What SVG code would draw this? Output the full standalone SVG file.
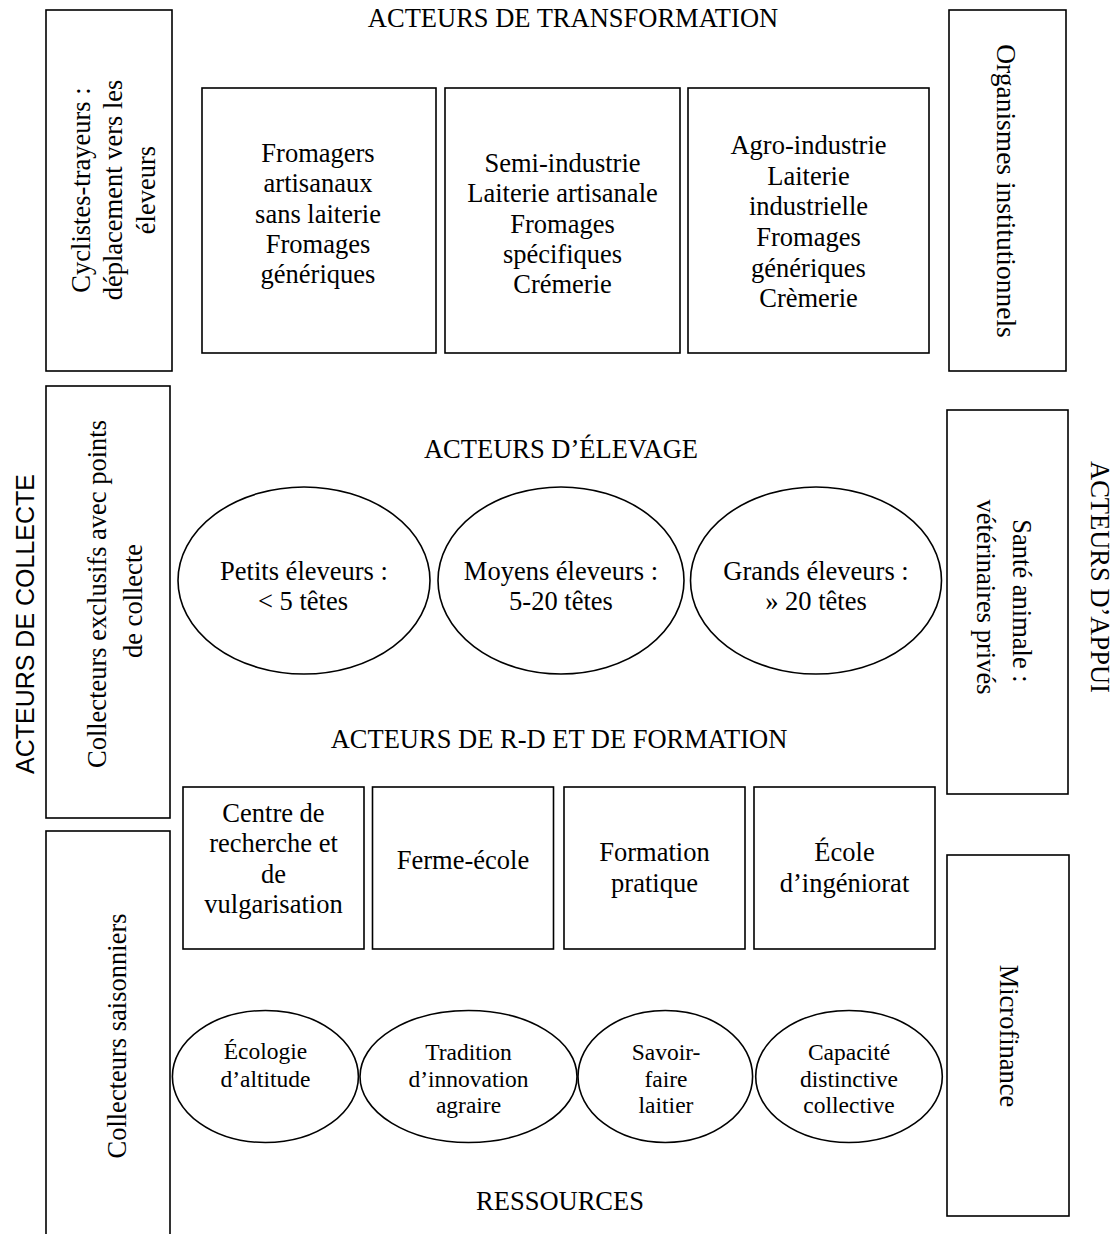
<svg xmlns="http://www.w3.org/2000/svg" width="1115" height="1234" viewBox="0 0 1115 1234">
<style>
  .box { fill: #ffffff; stroke: #000000; stroke-width: 1.6; }
  .ell { fill: #ffffff; stroke: #000000; stroke-width: 1.6; }
  .t { font-family: "Liberation Serif", "Times New Roman", serif; font-size: 26.5px; fill: #000000; text-anchor: middle; }
  .s { font-family: "Liberation Serif", "Times New Roman", serif; font-size: 23.5px; fill: #000000; text-anchor: middle; }
  .sans { font-family: "Liberation Sans", Arial, sans-serif; font-size: 25px; fill: #000000; text-anchor: middle; }
</style>
<rect x="0" y="0" width="1115" height="1234" fill="#ffffff"/>

<!-- Section titles -->
<g id="titles">
  <text class="t" x="573" y="27">ACTEURS DE TRANSFORMATION</text>
  <text class="t" x="561" y="458">ACTEURS D’ÉLEVAGE</text>
  <text class="t" x="559" y="748">ACTEURS DE R-D ET DE FORMATION</text>
  <text class="t" x="560" y="1210">RESSOURCES</text>
  <text class="sans" transform="translate(34,624) rotate(-90)">ACTEURS DE COLLECTE</text>
  <text class="t" transform="translate(1091,577) rotate(90)">ACTEURS D’APPUI</text>
</g>

<!-- Left column : collecte -->
<g id="cyclistes">
  <rect class="box" x="46" y="10" width="126" height="361"/>
  <text class="t" transform="translate(0,190) rotate(-90)"><tspan x="0" y="90">Cyclistes-trayeurs :</tspan><tspan x="0" y="122">déplacement vers les</tspan><tspan x="0" y="155">éleveurs</tspan></text>
</g>
<g id="collecteurs-exclusifs">
  <rect class="box" x="46" y="386" width="124" height="432"/>
  <text class="t" transform="translate(0,598) rotate(-90)"><tspan x="4" y="106">Collecteurs exclusifs avec points</tspan><tspan x="-3" y="142">de collecte</tspan></text>
</g>
<g id="collecteurs-saisonniers">
  <rect class="box" x="46" y="831" width="124" height="420"/>
  <text class="t" transform="translate(126,1036) rotate(-90)">Collecteurs saisonniers</text>
</g>

<!-- Transformation boxes -->
<g id="fromagers">
  <rect class="box" x="202" y="88" width="234" height="265"/>
  <text class="t"><tspan x="318" y="161.7">Fromagers</tspan><tspan x="318" y="192.1">artisanaux</tspan><tspan x="318" y="222.5">sans laiterie</tspan><tspan x="318" y="252.9">Fromages</tspan><tspan x="318" y="283.3">génériques</tspan></text>
</g>
<g id="semi-industrie">
  <rect class="box" x="445" y="88" width="235" height="265"/>
  <text class="t"><tspan x="562.5" y="171.8">Semi-industrie</tspan><tspan x="562.5" y="202.2">Laiterie artisanale</tspan><tspan x="562.5" y="232.6">Fromages</tspan><tspan x="562.5" y="263">spécifiques</tspan><tspan x="562.5" y="293.4">Crémerie</tspan></text>
</g>
<g id="agro-industrie">
  <rect class="box" x="688" y="88" width="241" height="265"/>
  <text class="t"><tspan x="808.5" y="154.2">Agro-industrie</tspan><tspan x="808.5" y="184.8">Laiterie</tspan><tspan x="808.5" y="215.4">industrielle</tspan><tspan x="808.5" y="246">Fromages</tspan><tspan x="808.5" y="276.6">génériques</tspan><tspan x="808.5" y="307.2">Crèmerie</tspan></text>
</g>

<!-- Right column : appui -->
<g id="organismes">
  <rect class="box" x="949" y="10" width="117" height="361"/>
  <text class="t" style="font-size:27.5px" transform="translate(997,191) rotate(90)">Organismes institutionnels</text>
</g>
<g id="sante-animale">
  <rect class="box" x="947" y="410" width="121" height="384"/>
  <text class="t" transform="translate(1013,601) rotate(90)">Santé animale :</text>
  <text class="t" transform="translate(977,597) rotate(90)">vétérinaires privés</text>
</g>
<g id="microfinance">
  <rect class="box" x="947" y="855" width="122" height="361"/>
  <text class="t" transform="translate(1000,1036) rotate(90)">Microfinance</text>
</g>

<!-- Elevage ellipses -->
<g id="petits-eleveurs">
  <ellipse class="ell" cx="304" cy="580.5" rx="126" ry="93.5"/>
  <text class="t"><tspan x="304" y="580">Petits éleveurs :</tspan><tspan x="303" y="610">&lt; 5 têtes</tspan></text>
</g>
<g id="moyens-eleveurs">
  <ellipse class="ell" cx="561" cy="580.5" rx="123" ry="93.5"/>
  <text class="t"><tspan x="561" y="580">Moyens éleveurs :</tspan><tspan x="561" y="610">5-20 têtes</tspan></text>
</g>
<g id="grands-eleveurs">
  <ellipse class="ell" cx="816" cy="580.5" rx="125.5" ry="93.5"/>
  <text class="t"><tspan x="816" y="580">Grands éleveurs :</tspan><tspan x="816" y="610">» 20 têtes</tspan></text>
</g>

<!-- R-D boxes -->
<g id="centre-recherche">
  <rect class="box" x="183" y="787" width="181" height="162"/>
  <text class="t"><tspan x="273.5" y="822">Centre de</tspan><tspan x="273.5" y="852.4">recherche et</tspan><tspan x="273.5" y="882.8">de</tspan><tspan x="273.5" y="913.2">vulgarisation</tspan></text>
</g>
<g id="ferme-ecole">
  <rect class="box" x="372.5" y="787" width="181" height="162"/>
  <text class="t" x="463" y="869">Ferme-école</text>
</g>
<g id="formation-pratique">
  <rect class="box" x="564" y="787" width="181" height="162"/>
  <text class="t"><tspan x="654.5" y="861">Formation</tspan><tspan x="654.5" y="891.5">pratique</tspan></text>
</g>
<g id="ecole-ingenieurs">
  <rect class="box" x="754" y="787" width="181" height="162"/>
  <text class="t"><tspan x="844.5" y="861">École</tspan><tspan x="844.5" y="891.5">d’ingéniorat</tspan></text>
</g>

<!-- Ressources ellipses -->
<g id="ecologie">
  <ellipse class="ell" cx="265.4" cy="1076.5" rx="93" ry="66"/>
  <text class="s"><tspan x="265.5" y="1059">Écologie</tspan><tspan x="265.5" y="1086.5">d’altitude</tspan></text>
</g>
<g id="tradition">
  <ellipse class="ell" cx="468.5" cy="1076.5" rx="108.5" ry="66"/>
  <text class="s"><tspan x="468.5" y="1060">Tradition</tspan><tspan x="468.5" y="1086.5">d’innovation</tspan><tspan x="468.5" y="1113">agraire</tspan></text>
</g>
<g id="savoir-faire">
  <ellipse class="ell" cx="665.3" cy="1076.5" rx="87.3" ry="66"/>
  <text class="s"><tspan x="666" y="1060">Savoir-</tspan><tspan x="666" y="1086.5">faire</tspan><tspan x="666" y="1113">laitier</tspan></text>
</g>
<g id="capacite">
  <ellipse class="ell" cx="849" cy="1076.5" rx="93.3" ry="66"/>
  <text class="s"><tspan x="849" y="1060">Capacité</tspan><tspan x="849" y="1086.5">distinctive</tspan><tspan x="849" y="1113">collective</tspan></text>
</g>

<g id="connectors"></g>
</svg>
